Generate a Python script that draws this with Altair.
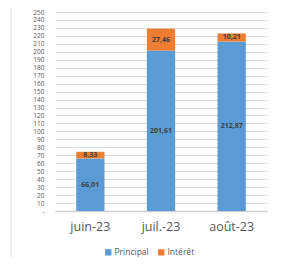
import altair as alt
import pandas as pd

months = ["juin-23", "juil.-23", "août-23"]
principal = [66.01, 201.61, 212.87]
interet = [8.33, 27.46, 10.21]
series = ["Principal", "Intérêt"]
colors = ["#5B9BD5", "#ED7D31"]
y_ticks = list(range(0, 251, 10))

rows = []
for m, p, i in zip(months, principal, interet):
    rows.append({"month": m, "serie": "Principal", "value": p, "ord": 0})
    rows.append({"month": m, "serie": "Intérêt", "value": i, "ord": 1})
df = pd.DataFrame(rows)

FONT = "Open Sans"

base = alt.Chart(df).transform_stack(
    stack="value", groupby=["month"], as_=["y0", "y1"], sort=[alt.SortField("ord", order="ascending")]
).transform_calculate(
    mid="(datum.y0 + datum.y1) / 2",
    lab="replace(format(datum.value, '.2f'), '.', ',')",
)

x_axis = alt.Axis(
    labelAngle=0, labelFontSize=12.5, labelColor="#595959", labelFont=FONT,
    ticks=False, domainColor="#d0d0d0", domainWidth=1.5, labelPadding=9,
)
y_axis = alt.Axis(
    values=y_ticks, labelFontSize=6.5, labelColor="#595959", labelFont=FONT,
    ticks=False, domain=False, gridColor="#d9d9d9", labelPadding=11,
    labelOverlap=False, labelBound=False, labelFlush=False,
    labelExpr="datum.value == 0 ? '-' : datum.label",
)
x_scale = alt.Scale(paddingInner=0.6, paddingOuter=0.3)
y_scale = alt.Scale(domain=[0, 250], nice=False)

bars = base.mark_bar().encode(
    x=alt.X("month:N", sort=months, title=None, scale=x_scale, axis=x_axis),
    y=alt.Y("y1:Q", title=None, scale=y_scale, axis=y_axis),
    y2="y0:Q",
    color=alt.Color(
        "serie:N",
        scale=alt.Scale(domain=series, range=colors),
        legend=alt.Legend(
            title=None, orient="none", direction="horizontal", legendX=49, legendY=236,
            symbolType="square", symbolSize=40, symbolStrokeWidth=0,
            labelFontSize=8.5, labelColor="#595959", labelFont=FONT, columnPadding=8, labelOffset=2,
        ),
    ),
)

texts = base.mark_text(fontSize=7, fontWeight="bold", color="#404040", font=FONT).encode(
    x=alt.X("month:N", sort=months, title=None, scale=x_scale, axis=x_axis),
    y=alt.Y("mid:Q", title=None, scale=y_scale, axis=y_axis),
    text="lab:N",
)

frame_df = pd.DataFrame({"a": [0]})
left_line = alt.Chart(frame_df).mark_rule(color="#d9d9d9").encode(
    x=alt.value(-44), y=alt.value(-12), y2=alt.value(260)
)
right_line = alt.Chart(frame_df).mark_rule(color="#d9d9d9").encode(
    x=alt.value(220.5), y=alt.value(-12), y2=alt.value(260)
)

chart = alt.layer(bars, texts, left_line, right_line).properties(
    width=212,
    height=199,
    autosize=alt.AutoSizeParams(type="none"),
    padding={"left": 47, "top": 4, "right": 8, "bottom": 46},
).configure_view(stroke=None).configure_axisY(labelOverlap=False)

chart.save("out.html", embed_options={"renderer": "svg", "actions": False})
